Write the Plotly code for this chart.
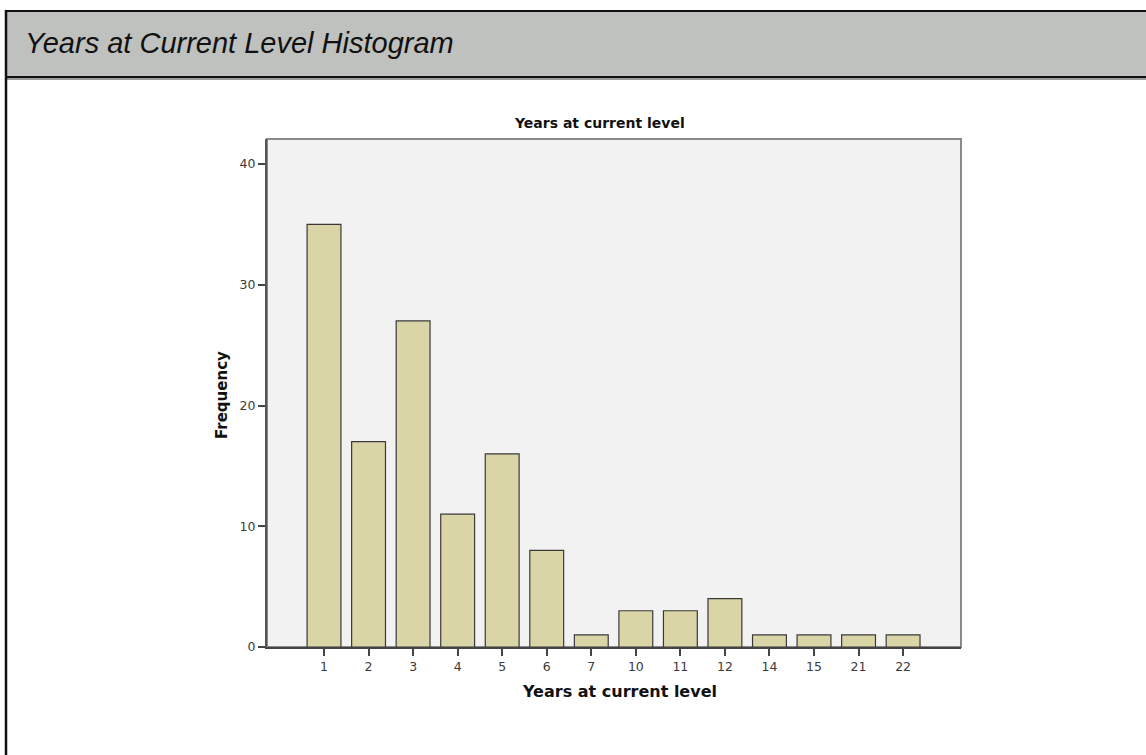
import plotly.graph_objects as go

# Frequency table: years at current level
years = ["1", "2", "3", "4", "5", "6", "7", "10", "11", "12", "14", "15", "21", "22"]
counts = [35, 17, 27, 11, 16, 8, 1, 3, 3, 4, 1, 1, 1, 1]
y_ticks = [0, 10, 20, 30, 40]

W, H = 1146, 755
L, R, T, B = 267, 961, 139, 647  # plot area in pixels


def px(x):
    return (x - L) / (R - L)


def py(y):
    return (B - y) / (B - T)


fig = go.Figure(
    go.Bar(
        x=list(range(len(years))),
        y=counts,
        width=0.76,
        marker=dict(color="#dad5a6", line=dict(color="#3a3a3a", width=1.2)),
        hoverinfo="x+y",
    )
)

chart_font = "DejaVu Sans"

fig.update_layout(
    width=W,
    height=H,
    margin=dict(l=L, r=W - R, t=T, b=H - B),
    paper_bgcolor="white",
    plot_bgcolor="#f2f2f2",
    showlegend=False,
    font=dict(family=chart_font, color="#333333"),
    xaxis=dict(
        range=[-1.28, 14.30],
        tickmode="array",
        tickvals=list(range(len(years))),
        ticktext=years,
        ticks="outside",
        ticklen=7,
        tickwidth=1.5,
        tickcolor="#444444",
        tickfont=dict(size=12.5, color="#3a3a3a"),
        showline=True,
        linecolor="#444444",
        linewidth=2,
        showgrid=False,
        zeroline=False,
    ),
    yaxis=dict(
        range=[0, 42.07],
        tickmode="array",
        tickvals=y_ticks,
        ticks="outside",
        ticklen=7,
        tickwidth=1.5,
        tickcolor="#444444",
        tickfont=dict(size=12.5, color="#3a3a3a"),
        showline=True,
        linecolor="#555555",
        linewidth=2,
        showgrid=False,
        zeroline=False,
    ),
    shapes=[
        # plot frame (top / right edges)
        dict(type="rect", xref="paper", yref="paper", x0=0, x1=1, y0=0, y1=1,
             line=dict(color="#8a8a8a", width=2), layer="below"),
        # header band
        dict(type="rect", xref="paper", yref="paper",
             x0=px(6), x1=px(W + 10), y0=py(11), y1=py(77),
             fillcolor="#bfc1bf", line=dict(color="#111111", width=2), layer="above"),
        dict(type="line", xref="paper", yref="paper",
             x0=px(7), x1=px(W + 10), y0=py(79), y1=py(79),
             line=dict(color="#9a9a9a", width=2)),
        # left page border
        dict(type="line", xref="paper", yref="paper",
             x0=px(6), x1=px(6), y0=py(10), y1=py(H + 5),
             line=dict(color="#111111", width=2.5)),
    ],
    annotations=[
        dict(text="Years at Current Level Histogram", xref="paper", yref="paper",
             x=px(23), y=py(43), xanchor="left", yanchor="middle", showarrow=False,
             font=dict(family="Liberation Sans", size=29, color="#111111", style="italic")),
        dict(text="<b>Years at current level</b>", xref="paper", yref="paper",
             x=px(599), y=py(123), xanchor="center", yanchor="middle", showarrow=False,
             font=dict(family=chart_font, size=14, color="#111111")),
        dict(text="<b>Years at current level</b>", xref="paper", yref="paper",
             x=px(619), y=py(691), xanchor="center", yanchor="middle", showarrow=False,
             font=dict(family=chart_font, size=16, color="#111111")),
        dict(text="<b>Frequency</b>", xref="paper", yref="paper",
             x=px(222), y=py(395), xanchor="center", yanchor="middle", showarrow=False,
             textangle=-90,
             font=dict(family=chart_font, size=15, color="#111111")),
    ],
)

fig.write_html("out.html")
